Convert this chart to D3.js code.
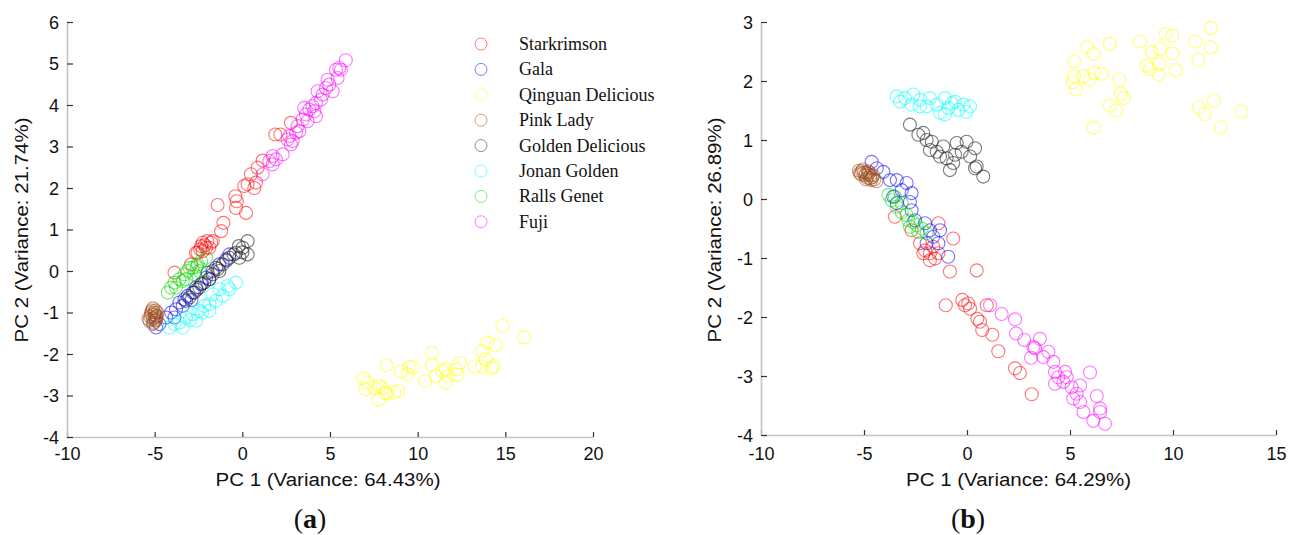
<!DOCTYPE html>
<html>
<head>
<meta charset="utf-8">
<script src="https://cdn.jsdelivr.net/npm/d3@7"></script>
<style>
  body { margin: 0; background: #fff; }
  svg { display: block; }
</style>
</head>
<body>
<div id="chart"></div>
<script>
// cultivar names + colours (legend order)
const cultivars = ["Starkrimson", "Gala", "Qinguan Delicious", "Pink Lady", "Golden Delicious", "Jonan Golden", "Ralls Genet", "Fuji"]
const colors = ["#ff0000", "#0000ff", "#ffff00", "#9c4a1a", "#222222", "#00ffff", "#00dd00", "#ff00ff"]

// ---- panel (a) scores [PC1, PC2]
const aStarkrimson = [[2.77,3.57],[1.88,3.29],[2.17,3.29],[1.16,2.66],[0.87,2.49],[0.49,2.33],[0.78,2.13],[0.68,2.0],[0.3,2.09],[0.11,2.05],[0.21,1.4],[-0.4,1.8],[-0.32,1.68],[-0.36,1.52],[-1.41,1.59],[-1.08,1.16],[-1.21,0.96],[-2.26,0.68],[-2.07,0.56],[-1.69,0.72],[-2.64,0.44],[-2.35,0.6],[-1.88,0.56],[-2.55,0.44],[-2.26,0.48],[-1.78,0.68],[-2.0,0.72],[-2.4,0.52],[-2.92,0.16],[-3.87,-0.04],[-2.15,0.62]]
const aGala = [[-4.92,-1.36],[-4.73,-1.28],[-4.35,-1.12],[-4.06,-1.0],[-3.78,-0.92],[-3.59,-0.76],[-3.3,-0.68],[-3.12,-0.6],[-2.83,-0.52],[-2.64,-0.4],[-2.35,-0.32],[-2.07,-0.16],[-1.69,0.0],[-1.31,0.16],[-0.93,0.28],[-3.87,-1.12],[-3.4,-0.84],[-0.74,0.4],[-2.9,-0.7],[-1.9,-0.2]]
const aQinguan = [[14.83,-1.32],[16.07,-1.6],[13.98,-1.72],[14.45,-1.79],[13.66,-1.93],[13.88,-2.13],[13.26,-2.3],[13.66,-2.3],[14.21,-2.34],[14.32,-2.29],[12.42,-2.21],[12.18,-2.37],[12.27,-2.5],[11.6,-2.37],[11.74,-2.53],[11.6,-2.69],[11.04,-2.53],[10.43,-2.65],[10.81,-1.97],[10.81,-2.26],[8.22,-2.27],[9.04,-2.42],[9.52,-2.31],[9.76,-2.33],[9.42,-2.49],[6.89,-2.58],[7.14,-2.69],[7.01,-2.85],[7.52,-2.81],[7.81,-2.77],[8.0,-2.81],[8.15,-2.93],[7.77,-3.1],[8.66,-2.93],[8.89,-2.89],[8.22,-2.95],[11.41,-2.41]]
const aPinkLady = [[-5.3,-1.2],[-5.2,-1.05],[-5.1,-1.15],[-5.0,-1.0],[-4.9,-1.1],[-4.85,-1.0],[-5.15,-0.95],[-4.95,-1.2],[-5.05,-1.25],[-4.9,-1.15],[-5.25,-1.1],[-4.95,-0.95],[-5.0,-1.05],[-5.1,-0.9],[-5.1,-1.28],[-4.88,-1.08],[-5.35,-1.15],[-5.0,-1.12],[-5.2,-1.0],[-4.95,-1.18]]
const aGolden = [[0.3,0.72],[0.02,0.56],[-0.36,0.44],[-0.74,0.32],[-1.12,0.16],[-1.31,0.0],[-1.69,-0.08],[-1.88,-0.2],[-2.17,-0.28],[-2.45,-0.4],[-2.74,-0.52],[-3.02,-0.64],[0.3,0.4],[-0.17,0.32],[-1.5,0.08],[-1.98,-0.04],[0.0,0.45],[-0.5,0.4],[-0.9,0.25],[-1.4,0.05],[-2.3,-0.3],[-2.6,-0.45],[-0.2,0.6],[-3.21,-0.72]]
const aJonan = [[-4.16,-1.36],[-3.87,-1.28],[-3.59,-1.24],[-3.21,-1.12],[-2.83,-1.04],[-2.45,-0.96],[-2.17,-0.84],[-1.88,-0.8],[-1.5,-0.72],[-1.12,-0.6],[-0.74,-0.44],[-0.36,-0.28],[-1.31,-0.44],[-1.69,-0.56],[-2.64,-1.2],[-3.4,-1.36],[-0.84,-0.36],[-1.88,-0.96],[-2.3,-1.0],[-3.0,-1.18]]
const aRalls = [[-4.06,-0.4],[-3.87,-0.28],[-3.59,-0.2],[-3.3,-0.08],[-3.12,0.0],[-2.83,0.08],[-2.55,0.16],[-2.35,0.24],[-2.07,0.32],[-3.78,-0.4],[-3.4,-0.24],[-2.74,-0.08],[-3.02,0.08],[-2.45,0.0],[-4.25,-0.52],[-3.2,-0.2],[-2.6,0.1]]
const aFuji = [[5.9,5.08],[5.53,4.89],[5.34,4.85],[5.62,4.85],[5.43,4.65],[4.86,4.61],[4.77,4.41],[5.15,4.33],[4.29,4.33],[4.58,4.25],[4.48,4.13],[4.2,4.05],[4.0,3.97],[3.53,3.93],[3.82,3.89],[4.1,3.85],[3.63,3.77],[3.44,3.65],[3.72,3.61],[3.25,3.37],[3.06,3.33],[2.68,3.25],[2.58,3.17],[2.87,3.13],[2.77,3.05],[1.73,2.77],[1.92,2.69],[2.3,2.81],[1.73,2.57],[1.16,2.33],[1.54,2.65],[3.15,3.49],[4.2,3.73],[4.96,4.49]]

// ---- panel (b) scores
const bStarkrimson = [[-3.5,-0.3],[-2.69,-0.53],[-2.28,-0.75],[-2.04,-0.87],[-1.8,-0.92],[-1.55,-1.01],[-1.8,-1.04],[-1.39,-0.92],[-1.39,-0.41],[-0.67,-0.67],[-0.83,-1.23],[0.47,-1.21],[-2.12,-0.92],[-1.64,-0.81],[-1.03,-1.8],[-0.23,-1.71],[-0.1,-1.8],[0.06,-1.77],[0.15,-1.86],[0.96,-1.8],[0.5,-2.03],[0.63,-2.08],[0.74,-2.22],[1.23,-2.3],[1.52,-2.58],[2.33,-2.87],[2.57,-2.95],[3.14,-3.31]]
const bGala = [[-4.63,0.63],[-4.06,0.46],[-3.74,0.32],[-3.41,0.32],[-2.93,0.27],[-3.17,0.15],[-2.69,0.1],[-3.58,0.04],[-2.77,-0.05],[-3.41,-0.07],[-2.69,-0.19],[-2.52,-0.36],[-2.04,-0.41],[-1.8,-0.53],[-1.31,-0.53],[-1.64,-0.64],[-1.39,-0.75],[-1.96,-0.75],[-0.91,-0.98],[-4.38,0.52]]
const bQinguan = [[11.84,2.9],[11.84,2.57],[11.07,2.67],[11.23,2.36],[9.97,2.77],[9.64,2.8],[9.97,2.47],[10.13,2.18],[9.37,2.54],[8.97,2.49],[8.4,2.67],[8.72,2.26],[8.88,2.2],[9.29,2.11],[9.34,2.29],[6.93,2.63],[7.39,2.02],[7.46,1.79],[7.62,1.71],[6.93,1.58],[7.23,1.5],[5.83,2.57],[6.15,2.46],[5.21,2.33],[5.19,2.08],[5.13,1.98],[5.29,1.86],[5.65,2.08],[5.97,2.02],[6.18,2.14],[6.54,2.12],[6.15,1.21],[11.25,1.55],[11.54,1.44],[11.99,1.66],[12.32,1.22],[13.33,1.48]]
const bPinkLady = [[-5.25,0.48],[-5.1,0.47],[-5.0,0.45],[-4.9,0.44],[-4.8,0.42],[-4.7,0.4],[-4.6,0.37],[-4.5,0.33],[-4.4,0.3],[-5.15,0.42],[-4.95,0.4],[-4.85,0.36],[-4.75,0.45],[-4.65,0.32],[-5.05,0.5],[-4.55,0.4],[-4.9,0.33],[-5.2,0.44],[-4.7,0.35],[-4.8,0.47]]
const bGolden = [[-2.77,1.26],[-2.36,1.09],[-2.12,1.12],[-1.96,1.0],[-1.71,0.97],[-1.8,0.83],[-1.47,0.8],[-1.15,0.89],[-1.31,0.72],[-0.99,0.69],[-0.67,0.61],[-0.5,0.95],[-0.26,0.8],[-0.02,0.97],[0.39,0.86],[0.15,0.72],[0.47,0.55],[0.79,0.38],[0.39,0.52],[-0.83,0.49],[-0.58,0.75]]
const bJonan = [[-3.41,1.74],[-3.01,1.71],[-2.61,1.77],[-2.28,1.68],[-2.69,1.6],[-1.8,1.71],[-1.96,1.57],[-1.47,1.6],[-1.07,1.71],[-1.31,1.46],[-0.91,1.54],[-0.58,1.65],[-0.42,1.51],[-0.18,1.6],[0.15,1.57],[-1.07,1.43],[-3.25,1.65],[-2.28,1.57],[-0.74,1.62],[-0.02,1.48]]
const bRalls = [[-3.82,0.07],[-3.66,-0.02],[-3.41,-0.13],[-3.17,-0.22],[-2.93,-0.27],[-2.85,-0.36],[-2.61,-0.39],[-2.44,-0.44],[-2.77,-0.47],[-2.2,-0.5],[-1.96,-0.58],[-2.36,-0.56],[-3.17,-0.07],[-3.5,0.04]]
const bFuji = [[1.12,-1.8],[1.68,-1.95],[2.33,-2.04],[2.38,-2.28],[2.78,-2.39],[3.54,-2.37],[3.22,-2.51],[3.3,-2.53],[3.11,-2.69],[3.95,-2.59],[3.7,-2.68],[4.19,-2.76],[4.27,-2.93],[4.76,-2.93],[4.84,-3.02],[4.27,-3.13],[4.68,-3.1],[5.08,-3.19],[5.49,-3.16],[5.97,-2.94],[5.16,-3.38],[5.49,-3.44],[5.65,-3.61],[6.3,-3.34],[6.46,-3.55],[6.13,-3.76],[6.7,-3.81],[6.46,-3.61],[5.32,-3.3],[4.43,-3.02]]

// axis ticks
const aXTicks = [-10, -5, 0, 5, 10, 15, 20]
const aYTicks = [-4, -3, -2, -1, 0, 1, 2, 3, 4, 5, 6]
const bXTicks = [-10, -5, 0, 5, 10, 15]
const bYTicks = [-4, -3, -2, -1, 0, 1, 2, 3]

const aGroups = [aStarkrimson, aGala, aQinguan, aPinkLady, aGolden, aJonan, aRalls, aFuji]
const bGroups = [bStarkrimson, bGala, bQinguan, bPinkLady, bGolden, bJonan, bRalls, bFuji]

var width = 1289, height = 535
var sans = "'Liberation Sans', Arial, sans-serif"

var svg = d3.select("#chart")
  .append("svg")
    .attr("width", width)
    .attr("height", height)

function drawPanel(cfg) {
  var x = d3.scaleLinear().domain(d3.extent(cfg.xTicks)).range(cfg.xRange)
  var y = d3.scaleLinear().domain(d3.extent(cfg.yTicks)).range(cfg.yRange)
  var fmt = d => String(d)   // plain hyphen minus like the original

  var g = svg.append("g")

  // points
  cfg.groups.forEach(function(pts, i) {
    g.append("g")
      .selectAll("circle")
      .data(pts)
      .enter()
      .append("circle")
        .attr("cx", d => x(d[0]))
        .attr("cy", d => y(d[1]))
        .attr("r", 6.5)
        .style("fill", "none")
        .style("stroke", colors[i])
        .style("stroke-opacity", i == 4 ? 0.6 : 0.55)
        .style("stroke-width", 1.1)
  })

  // axes, ticks pointing inwards
  var xAxis = g.append("g")
    .attr("transform", "translate(0," + cfg.yRange[0] + ")")
    .call(d3.axisBottom(x).tickValues(cfg.xTicks).tickFormat(fmt).tickSizeInner(-5).tickSizeOuter(0))
  var yAxis = g.append("g")
    .attr("transform", "translate(" + cfg.xRange[0] + ",0)")
    .call(d3.axisLeft(y).tickValues(cfg.yTicks).tickFormat(fmt).tickSizeInner(-6).tickSizeOuter(0).tickPadding(8))

  ;[xAxis, yAxis].forEach(function(ax) {
    ax.select(".domain").style("stroke", "#c4c4c4").style("stroke-width", 1.6)
    ax.selectAll(".tick line").style("stroke", "#333").style("stroke-width", 1.2)
    ax.selectAll(".tick text")
      .style("font-family", sans)
      .style("font-size", "18px")
      .style("fill", "#111")
  })
  // baseline of x tick labels at about y=460
  xAxis.selectAll(".tick text").attr("y", 460 - cfg.yRange[0]).attr("dy", 0)
  yAxis.selectAll(".tick text").attr("dy", "0.36em")

  // axis titles
  g.append("text")
    .attr("x", (cfg.xRange[0] + cfg.xRange[1]) / 2 + cfg.xTitleShift)
    .attr("y", 486)
    .attr("textLength", 225)
    .attr("lengthAdjust", "spacingAndGlyphs")
    .style("text-anchor", "middle")
    .style("font-family", sans)
    .style("font-size", "18px")
    .style("fill", "#111")
    .text(cfg.xTitle)
  g.append("text")
    .attr("transform", "translate(" + cfg.yTitleX + ",230) rotate(-90)")
    .attr("textLength", 225)
    .attr("lengthAdjust", "spacingAndGlyphs")
    .style("text-anchor", "middle")
    .style("font-family", sans)
    .style("font-size", "18px")
    .style("fill", "#111")
    .text(cfg.yTitle)

  // panel letter
  var lab = g.append("text")
    .attr("x", cfg.labelX)
    .attr("y", 528)
    .style("text-anchor", "middle")
    .style("font-family", "'Liberation Serif', 'DejaVu Serif', serif")
    .style("font-size", "28px")
    .style("fill", "#111")
  lab.append("tspan").text("(")
  lab.append("tspan").style("font-weight", "bold").text(cfg.letter)
  lab.append("tspan").text(")")
}

drawPanel({
  groups: aGroups, xTicks: aXTicks, yTicks: aYTicks,
  xRange: [67, 593], yRange: [437, 22],
  xTitle: "PC 1 (Variance: 64.43%)", xTitleShift: -2,
  yTitle: "PC 2 (Variance: 21.74%)", yTitleX: 28,
  letter: "a", labelX: 310
})

drawPanel({
  groups: bGroups, xTicks: bXTicks, yTicks: bYTicks,
  xRange: [761, 1276], yRange: [435, 22],
  xTitle: "PC 1 (Variance: 64.29%)", xTitleShift: 0,
  yTitle: "PC 2 (Variance: 26.89%)", yTitleX: 721,
  letter: "b", labelX: 968
})

// legend (inside panel a)
var legend = svg.append("g")
  .selectAll("g")
  .data(cultivars)
  .enter()
  .append("g")
    .attr("transform", (d, i) => "translate(481," + (44 + i * 25.4) + ")")
legend.append("circle")
  .attr("r", 6)
  .style("fill", "none")
  .style("stroke", (d, i) => colors[i])
  .style("stroke-opacity", 0.5)
legend.append("text")
  .attr("x", 38)
  .attr("y", 6)
  .style("font-family", "'Liberation Serif', 'Times New Roman', serif")
  .style("font-size", "18px")
  .style("fill", "#111")
  .text(d => d)
</script>
</body>
</html>
